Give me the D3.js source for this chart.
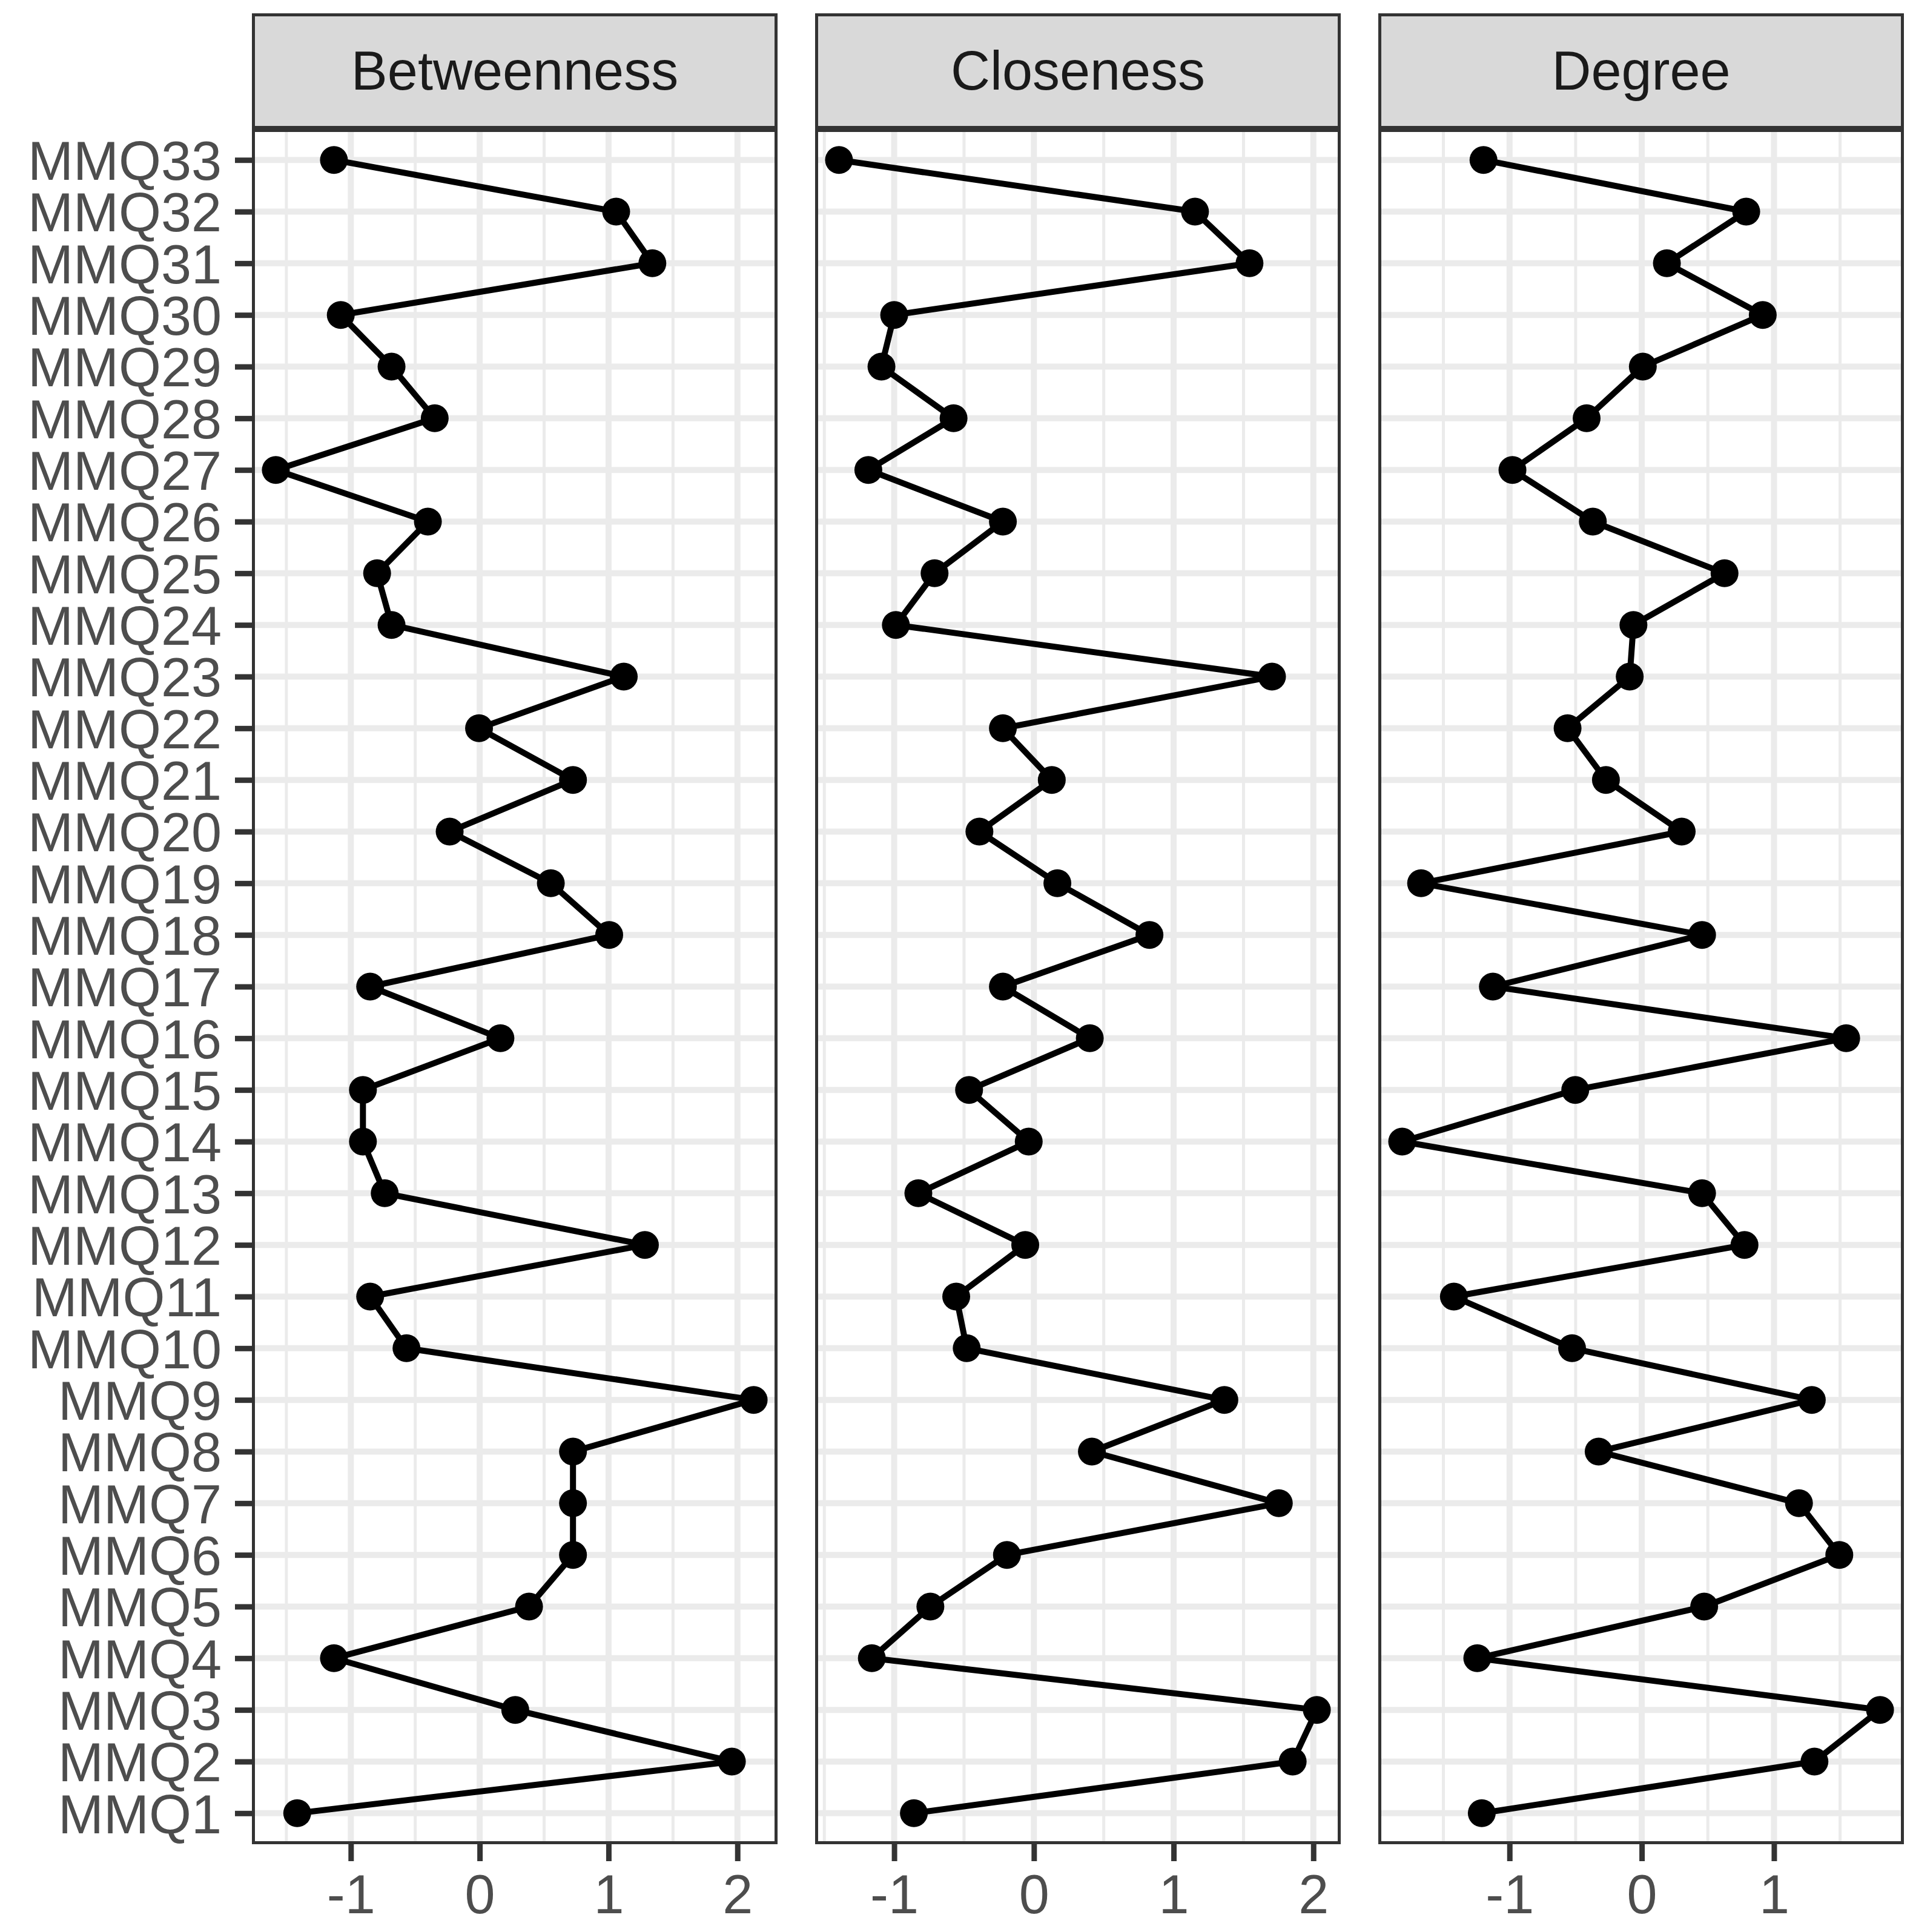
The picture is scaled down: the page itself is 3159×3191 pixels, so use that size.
<!DOCTYPE html>
<html>
<head>
<meta charset="utf-8">
<script src="https://cdn.jsdelivr.net/npm/d3@7"></script>
<style>
  body { margin: 0; background: #fff; }
</style>
</head>
<body>
<div id="chart"></div>
<script>
// items MMQ1..MMQ33, values in the same order
const items = d3.range(1, 34).map(i => "MMQ" + i);
const measures = ["Betweenness", "Closeness", "Degree"];

const betweenness = [-1.416, 1.957, 0.276, -1.131, 0.383, 0.724, 0.724, 0.724, 2.126, -0.568,
  -0.850, 1.282, -0.737, -0.906, -0.906, 0.161, -0.850, 1.005, 0.552, -0.233,
  0.724, -0.005, 1.118, -0.684, -0.796, -0.402, -1.582, -0.349, -0.684, -1.078,
  1.340, 1.059, -1.131];

const closeness = [-0.859, 1.852, 2.025, -1.160, -0.741, -0.193, 1.753, 0.415, 1.363, -0.481,
  -0.556, -0.062, -0.827, -0.037, -0.464, 0.400, -0.222, 0.827, 0.168, -0.390,
  0.128, -0.222, 1.704, -0.988, -0.711, -0.222, -1.185, -0.575, -1.091, -1.000,
  1.543, 1.153, -1.395];

const degree = [-1.210, 1.306, 1.802, -1.244, 0.472, 1.494, 1.189, -0.326, 1.286, -0.527,
  -1.421, 0.777, 0.456, -1.812, -0.503, 1.546, -1.126, 0.456, -1.669, 0.302,
  -0.271, -0.561, -0.091, -0.063, 0.626, -0.370, -0.978, -0.417, 0.008, 0.915,
  0.190, 0.790, -1.197];

const xTicks = [[-1, 0, 1, 2], [-1, 0, 1, 2], [-1, 0, 1]];

const W = 3159, H = 3191;
const stripTop = 22, panelTop = 213, panelBottom = 3046;
const panelLeft = [416, 1346, 2276], panelW = 868;
const fontSize = 90;
const font = "'Liberation Sans', Arial, sans-serif";

const svg = d3.select("#chart").append("svg")
    .attr("width", W)
    .attr("height", H);

const y = d3.scalePoint()
    .domain(items)
    .range([panelBottom, panelTop])
    .padding(0.6);

const series = [betweenness, closeness, degree];

series.forEach((vals, k) => {
    const x0 = panelLeft[k];
    const ext = d3.extent(vals);
    const pad = (ext[1] - ext[0]) * 0.05;
    const x = d3.scaleLinear()
        .domain([ext[0] - pad, ext[1] + pad])
        .range([x0, x0 + panelW]);

    const rows = items.map((d, i) => ({ item: d, value: vals[i] }));

    const g = svg.append("g");

    // background
    g.append("rect")
        .attr("x", x0).attr("y", panelTop)
        .attr("width", panelW).attr("height", panelBottom - panelTop)
        .attr("fill", "#fff");

    // minor vertical grid
    const major = xTicks[k];
    const step = major[1] - major[0];
    const minor = d3.range(major[0] - step / 2, major[major.length - 1] + step, step)
        .filter(v => v > x.domain()[0] && v < x.domain()[1]);

    g.selectAll(".minor")
        .data(minor)
        .join("line")
        .attr("x1", d => x(d)).attr("x2", d => x(d))
        .attr("y1", panelTop).attr("y2", panelBottom)
        .attr("stroke", "#EBEBEB")
        .attr("stroke-width", 5);

    // major grid
    g.selectAll(".hgrid")
        .data(items)
        .join("line")
        .attr("x1", x0).attr("x2", x0 + panelW)
        .attr("y1", d => y(d)).attr("y2", d => y(d))
        .attr("stroke", "#EBEBEB")
        .attr("stroke-width", 10);

    g.selectAll(".vgrid")
        .data(major)
        .join("line")
        .attr("x1", d => x(d)).attr("x2", d => x(d))
        .attr("y1", panelTop).attr("y2", panelBottom)
        .attr("stroke", "#EBEBEB")
        .attr("stroke-width", 10);

    // data
    const line = d3.line()
        .x(d => x(d.value))
        .y(d => y(d.item));

    g.append("path")
        .datum(rows)
        .attr("d", line)
        .attr("fill", "none")
        .attr("stroke", "#000")
        .attr("stroke-width", 10)
        .attr("stroke-linejoin", "round");

    g.selectAll("circle")
        .data(rows)
        .join("circle")
        .attr("cx", d => x(d.value))
        .attr("cy", d => y(d.item))
        .attr("r", 23)
        .attr("fill", "#000");

    // panel border (clipped half of a thick line)
    g.append("rect")
        .attr("x", x0 + 2.5).attr("y", panelTop + 2.5)
        .attr("width", panelW - 5).attr("height", panelBottom - panelTop - 5)
        .attr("fill", "none")
        .attr("stroke", "#333333")
        .attr("stroke-width", 5);

    // strip
    g.append("rect")
        .attr("x", x0 + 2.5).attr("y", stripTop + 2.5)
        .attr("width", panelW - 5).attr("height", panelTop - stripTop - 5)
        .attr("fill", "#D9D9D9")
        .attr("stroke", "#333333")
        .attr("stroke-width", 5);

    g.append("text")
        .attr("x", x0 + panelW / 2)
        .attr("y", (stripTop + panelTop) / 2 - 2)
        .attr("dy", "0.36em")
        .attr("text-anchor", "middle")
        .attr("font-family", font)
        .attr("font-size", fontSize)
        .attr("fill", "#1A1A1A")
        .text(measures[k]);

    // x axis
    const xAxis = svg.append("g")
        .attr("transform", `translate(0,${panelBottom})`)
        .call(d3.axisBottom(x)
            .tickValues(major)
            .tickFormat(d => String(d))
            .tickSize(28)
            .tickPadding(22));
    xAxis.select(".domain").remove();
    xAxis.selectAll("line").attr("stroke", "#333333").attr("stroke-width", 9);
    xAxis.selectAll("text")
        .attr("font-family", font)
        .attr("font-size", fontSize)
        .attr("fill", "#4D4D4D");

    if (k === 0) {
        const yAxis = svg.append("g")
            .attr("transform", `translate(${x0},0)`)
            .call(d3.axisLeft(y).tickSize(28).tickPadding(22));
        yAxis.select(".domain").remove();
        yAxis.selectAll("line").attr("stroke", "#333333").attr("stroke-width", 9);
        yAxis.selectAll("text")
            .attr("dy", "0.36em")
            .attr("font-family", font)
            .attr("font-size", fontSize)
            .attr("fill", "#4D4D4D");
    }
});
</script>
</body>
</html>
